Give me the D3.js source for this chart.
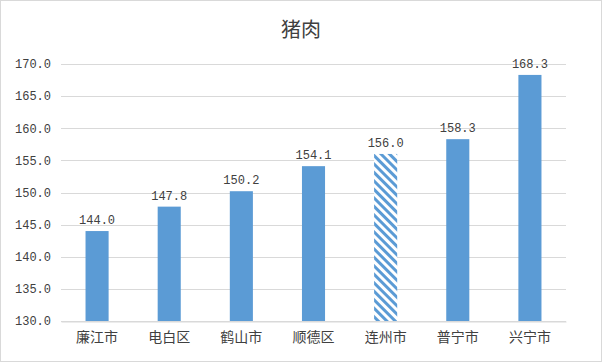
<!DOCTYPE html>
<html>
<head>
<meta charset="utf-8">
<script src="https://cdn.jsdelivr.net/npm/d3@7"></script>
<style>
  body { margin: 0; background: #fff; }
  text { font-family: "Noto Sans CJK SC", "DejaVu Sans", sans-serif; }
  .num { font-family: "Liberation Mono", "DejaVu Sans Mono", monospace; }
</style>
</head>
<body>
<script>
"use strict";
var svg_width = 602;
var svg_height = 362;

// chart data
var chart_title = "猪肉";
var categories = ["廉江市", "电白区", "鹤山市", "顺德区", "连州市", "普宁市", "兴宁市"];
var values = [144.0, 147.8, 150.2, 154.1, 156.0, 158.3, 168.3];
var hatched = ["连州市"];
var y_ticks = [130, 135, 140, 145, 150, 155, 160, 165, 170];

var bar_color = "#5B9BD5";
var grid_color = "#D9D9D9";
var text_color = "#404040";

var svg = d3.select("body")
    .append("svg")
    .attr("width", svg_width)
    .attr("height", svg_height);

// hatch pattern for the highlighted bar ("\" stripes)
var defs = svg.append("defs");
var pattern = defs.append("pattern")
    .attr("id", "hatch")
    .attr("patternUnits", "userSpaceOnUse")
    .attr("width", 6)
    .attr("height", 6)
    .attr("patternTransform", "rotate(45)");
pattern.append("rect")
    .attr("width", 6).attr("height", 6).attr("fill", "#fff");
pattern.append("rect")
    .attr("width", 6).attr("height", 3).attr("fill", bar_color);

// outer border
svg.append("rect")
    .attr("x", 0.5).attr("y", 0.5)
    .attr("width", svg_width - 1).attr("height", svg_height - 1)
    .attr("fill", "#fff")
    .attr("stroke", grid_color);

var xscale = d3.scaleBand()
    .domain(categories)
    .range([61, 566])
    .paddingInner(0.68)
    .paddingOuter(0.34);

var yscale = d3.scaleLinear()
    .domain([130, 170])
    .range([321, 64]);

// gridlines
svg.append("g")
    .selectAll("line")
    .data(y_ticks)
    .enter()
    .append("line")
    .attr("x1", 61)
    .attr("x2", 566)
    .attr("y1", function(d) { return Math.round(yscale(d)) + 0.5; })
    .attr("y2", function(d) { return Math.round(yscale(d)) + 0.5; })
    .attr("stroke", grid_color)
    .attr("stroke-width", 1);

// y axis labels
var yaxis = d3.axisLeft(yscale)
    .tickValues(y_ticks)
    .tickSize(0)
    .tickPadding(0)
    .tickFormat(d3.format(".1f"));
var ygroup = svg.append("g")
    .attr("transform", "translate(51,0)")
    .call(yaxis);
ygroup.select(".domain").remove();
ygroup.selectAll("text")
    .attr("class", "num")
    .attr("fill", text_color)
    .style("font-size", "12px");

// bars
svg.append("g")
    .selectAll("rect")
    .data(values)
    .enter()
    .append("rect")
    .attr("x", function(d, i) { return xscale(categories[i]); })
    .attr("y", function(d) { return yscale(d); })
    .attr("width", xscale.bandwidth())
    .attr("height", function(d) { return yscale(130) - yscale(d); })
    .attr("fill", function(d, i)
    {
        if(hatched.indexOf(categories[i]) >= 0)
        {
            return "url(#hatch)";
        }
        return bar_color;
    });

// value labels
svg.append("g")
    .selectAll("text")
    .data(values)
    .enter()
    .append("text")
    .attr("class", "num")
    .attr("x", function(d, i) { return xscale(categories[i]) + xscale.bandwidth() / 2; })
    .attr("y", function(d) { return yscale(d) - 7; })
    .attr("text-anchor", "middle")
    .attr("fill", text_color)
    .style("font-size", "12px")
    .text(function(d) { return d.toFixed(1); });

// x axis
var xaxis = d3.axisBottom(xscale)
    .tickSize(0)
    .tickPadding(11);
var xgroup = svg.append("g")
    .attr("transform", "translate(0,321.5)")
    .call(xaxis);
xgroup.select(".domain").attr("stroke", grid_color);
xgroup.selectAll("text")
    .attr("fill", text_color)
    .style("font-size", "14px");

// title
svg.append("text")
    .attr("x", svg_width / 2)
    .attr("y", 37)
    .attr("text-anchor", "middle")
    .attr("fill", "#404040")
    .style("font-size", "20px")
    .text(chart_title);
</script>
</body>
</html>
